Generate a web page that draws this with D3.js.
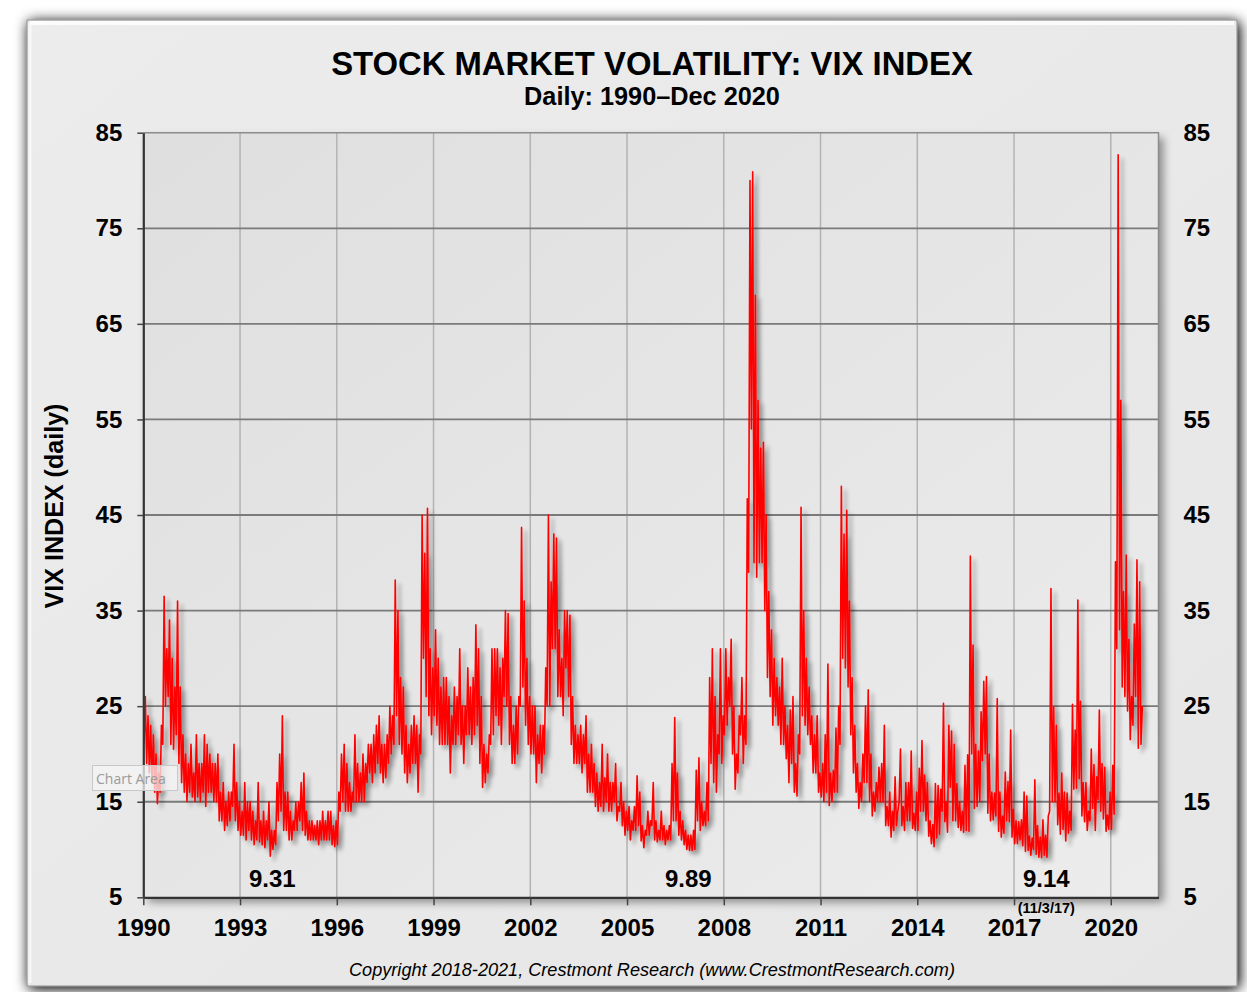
<!DOCTYPE html>
<html><head><meta charset="utf-8">
<script src="https://cdn.jsdelivr.net/npm/d3@7"></script>
<style>
body{margin:0;background:#fff;}
svg{display:block;font-family:"Liberation Sans",Arial,sans-serif;}
</style>
</head><body>
<svg id="c" width="1247" height="992"></svg>
<script>
// ---------------- data ----------------
const startYear = 1990;
const xTickYears = [1990,1993,1996,1999,2002,2005,2008,2011,2014,2017,2020];
const yTickValues = [5,15,25,35,45,55,65,75,85];
// monthly low / high readings of the daily VIX, Jan 1990 - Dec 2020
const vixLow = [
 21,19,18,17,16,14.8,16,21,25,26,21,20.5,            // 1990
 22,19,17,16,15,16,15.5,15,15.5,15,16,14.5,          // 1991
 16,16,15,15,13,13,12,12.5,13,14.5,13,12,            // 1992
 11.5,11.5,11,12,11,10.5,11,10.8,10.5,10.2,11,9.31,  // 1993
 10,10.5,13,14,12,12,11,11,12,12,13,12,              // 1994
 11.5,11,11,11,11,10.5,11,11,11,11,10.5,10.3,        // 1995
 10.5,14,15,14,14,14,15,15,15,15,15,17,              // 1996
 18,17,18,19,18,17,17.5,19,20,21,24,21,              // 1997
 20,18,17,18,19,19,16,20,30,26,24,22,                // 1998
 24,23,21,21,21,21,18,21,21,22,21,19,                // 1999
 22,22,21,22,23,19,16.5,17,18,21,22,24,              // 2000
 23,21,26,25,21,19,19,20,25,27,23,21,                // 2001
 20,20,17,19,18,20,25,25,31,31,26,26,                // 2002
 24,29,26,21,19,19,19,18,19,16,16,16,                // 2003
 14.5,14,14.5,14,15,14,14,15,13,14,12.5,11.5,        // 2004
 12,11,12,12,12.5,10.9,10.2,11.5,11.5,12.5,11,10.8,  // 2005
 11,11,10.5,11,11,13,13,11.5,11,10.5,10,9.9,         // 2006
 9.89,10,13,12,12.5,12.5,13,19,17,16,20,19,          // 2007
 22,23,25,20,16.3,18,22,19,21,39,54,40,              // 2008
 38.5,40,40,35,28,26,23,24,23,21,21,19.5,            // 2009
 17,19,16,15.6,20,24,23,22,21,18,18,16,              // 2010
 15.5,15,16,14.6,15,16,16,21,30,29,27,22,            // 2011
 18,16,14.3,15,17,17,15,13.5,14,15,15,15,            // 2012
 12.5,12.5,11.3,12,12.5,15,12.5,12,13,13,12.2,12,    // 2013
 12,14,14,13,11.4,10.6,10.3,11.2,11.6,14,12.9,11.8,  // 2014
 16.5,13,13,12.3,12,11.8,12,11.9,20,14.3,14.5,15,    // 2015
 19.3,20,13.8,13,13.1,13.5,11.9,11.3,11.7,13,12.9,11.3, // 2016
 10.6,10.6,11,10.4,9.8,9.9,9.4,10,9.5,9.2,9.14,9.4,  // 2017
 9.2,14,15,15,12.6,11.6,12.1,10.9,11.7,12,16.3,16.4, // 2018
 17.4,13.5,12.9,12,13,14.3,12,15.2,14,13.2,11.9,12.1, // 2019
 12.1,13.7,31,33,27,26,24.5,21.5,23,26,20.6,21       // 2020
];
const vixHigh = [
 26,24,23,22,20,18,23,36.5,31,34,30,27,              // 1990
 36,27,22,20,19,21,18,22,19,19,22,21,                // 1991
 20,19,19,20,16,17,15,16,16,21,17,15,                // 1992
 14,17,15,15,14,13,17,13,14,13,15,12,                // 1993
 12,17,20,24,16,16,14,13,15,15,17,18,                // 1994
 14,13,13,12.5,13,13,14,13,14,14,12.5,13,            // 1995
 16,20,21,19,17,16,22,19,18,20,19,21,                // 1996
 21,22,23,24,21,21,22,25,24,38.2,35,28,              // 1997
 27,23,21,23,24,23,22,45,41,45.7,31,29,              // 1998
 33,30,27,28,28,26,24,27,26,31,25,25,                // 1999
 29,27,28,33.5,31,26,21,20,22,31,31,31,              // 2000
 29,30,35,34.7,26,23,25,26,43.7,36,30,26,            // 2001
 25,25,22,23,23,29,45,38,43,42.6,33,30,              // 2002
 35,35,34.5,26,23,22,23,22,24,20,21,19,              // 2003
 18,17,21,17.5,20,17,17,19,14.5,17,15,14,            // 2004
 14.5,13,14.5,17.7,16,12.5,12,14,13,17,13,12,        // 2005
 14,12.5,12,12.5,19,23.8,18,14,13,12,11.5,11.5,      // 2006
 12,18.3,19.6,15,14,17,28,31,26,22,31,24,            // 2007
 31,28,32,25,20,24,28,24,46.7,80,80.9,68,            // 2008
 57,52,52.6,45,37,33,30,28,27,30,25,23,              // 2009
 24.6,26,19,22,45.8,35,30,27,24,22,24,18,            // 2010
 19,22,29.4,18,18.3,22.7,25,48,43,45.5,36,28,        // 2011
 23,19,17,20,25,26.7,20,16,17,18.6,19,23,            // 2012
 14.5,16,14,17.6,14,20.5,14.5,17,17,20.3,13.8,16,    // 2013
 18.5,21.4,17.8,17,13,12.6,16.9,16.7,16.3,25.3,15,23, // 2014
 22.4,21,16.9,15,14,18.8,19.9,40.7,31.4,21,20.3,24.4, // 2015
 27.6,28.1,20,16,15.9,25.8,16,13.5,18.1,17.1,22.5,14.2, // 2016
 13,12.9,13.1,16,15.6,11.4,11.2,17.3,12.5,11.3,13.1,11.5, // 2017
 13.5,37.3,24.9,23,15.9,18,16,15.9,14,25.2,22.5,36.1, // 2018
 25.5,17,17,14,20.5,18.9,17.6,24.6,19,18.6,13.6,16,  // 2019
 18.8,40.1,82.7,57,37,40.8,32,26,33.6,40.3,38,25     // 2020
];
const lowLabels = ["9.31","9.89","9.14"];
const lowLabelYears = [1994.0, 2006.9, 2018.0];
const lowLabelNotes = ["","","(11/3/17)"];

// ---------------- chart ----------------
const svg = d3.select("#c");
const defs = svg.append("defs");

function shadowFilter(id, blur, dx, dy, op){
  const f = defs.append("filter").attr("id", id)
    .attr("x","-10%").attr("y","-10%").attr("width","125%").attr("height","125%");
  f.append("feGaussianBlur").attr("in","SourceAlpha").attr("stdDeviation",blur).attr("result","b");
  f.append("feOffset").attr("in","b").attr("dx",dx).attr("dy",dy).attr("result","o");
  f.append("feComponentTransfer").attr("in","o").attr("result","s")
    .append("feFuncA").attr("type","linear").attr("slope",op);
  const m = f.append("feMerge");
  m.append("feMergeNode").attr("in","s");
  m.append("feMergeNode").attr("in","SourceGraphic");
}
shadowFilter("frameShadow", 7, 2, 2, 1.1);
shadowFilter("plotShadow", 4, 5, 5, 0.4);
shadowFilter("lineShadow", 2.2, 4, 4, 0.4);

const fg = defs.append("linearGradient").attr("id","frameGrad")
  .attr("x1","0").attr("y1","0").attr("x2","1").attr("y2","1");
fg.append("stop").attr("offset","0").attr("stop-color","#ececec");
fg.append("stop").attr("offset","1").attr("stop-color","#e6e6e6");
const pg = defs.append("linearGradient").attr("id","plotGrad")
  .attr("x1","0").attr("y1","0").attr("x2","1").attr("y2","1");
pg.append("stop").attr("offset","0").attr("stop-color","#dfdfdf");
pg.append("stop").attr("offset","1").attr("stop-color","#ececec");

// outer frame
svg.append("rect").attr("x",27).attr("y",20).attr("width",1210).attr("height",966)
  .attr("fill","url(#frameGrad)").attr("stroke","#8a8a8a").attr("stroke-width",1)
  .attr("filter","url(#frameShadow)");
svg.append("line").attr("x1",30).attr("x2",1234).attr("y1",23).attr("y2",23)
  .attr("stroke","#fff").attr("stroke-width",4).attr("opacity",0.85);
svg.append("line").attr("x1",30).attr("x2",30).attr("y1",23).attr("y2",983)
  .attr("stroke","#fff").attr("stroke-width",3).attr("opacity",0.6);

const L = 143.3, R = 1158.5, T = 132.7, B = 897.3;
const x = d3.scaleLinear().domain([1990, 2021.48]).range([L, R]);
const y = d3.scaleLinear().domain([5, 85]).range([B, T]);

// plot area
svg.append("rect").attr("x",L).attr("y",T).attr("width",R-L).attr("height",B-T)
  .attr("fill","url(#plotGrad)").attr("filter","url(#plotShadow)");

// gridlines
svg.append("g").selectAll("line").data(xTickYears.slice(1)).join("line")
  .attr("x1",d=>x(d)).attr("x2",d=>x(d)).attr("y1",T).attr("y2",B)
  .attr("stroke","#b3b3b3").attr("stroke-width",1.5);
svg.append("g").selectAll("line").data(yTickValues.slice(1,-1)).join("line")
  .attr("x1",L).attr("x2",R).attr("y1",d=>y(d)).attr("y2",d=>y(d))
  .attr("stroke","#7a7a7a").attr("stroke-width",1.8);
svg.append("path").attr("d",`M${L},${T}H${R}V${B}`).attr("fill","none")
  .attr("stroke","#8c8c8c").attr("stroke-width",1.5);

// series
const pts = [];
vixLow.forEach((v,i)=>{
  pts.push([startYear + (i+0.25)/12, v]);
  pts.push([startYear + (i+0.75)/12, vixHigh[i]]);
});
const line = d3.line().x(d=>x(d[0])).y(d=>y(d[1]));
svg.append("path").datum(pts).attr("d",line).attr("fill","none")
  .attr("stroke","#ff0000").attr("stroke-width",1.6).attr("stroke-linejoin","round")
  .attr("filter","url(#lineShadow)");

// axes
const font = "'Liberation Sans', Arial, sans-serif";
const yl = svg.append("g").attr("transform",`translate(${L},0)`)
  .call(d3.axisLeft(y).tickValues(yTickValues).tickSize(6).tickPadding(15).tickSizeOuter(0));
const yr = svg.append("g").attr("transform",`translate(${R},0)`)
  .call(d3.axisRight(y).tickValues(yTickValues).tickSize(0).tickPadding(25).tickSizeOuter(0));
yr.select(".domain").remove();
const xa = svg.append("g").attr("transform",`translate(0,${B})`)
  .call(d3.axisBottom(x).tickValues(xTickYears).tickFormat(d3.format("d")).tickSize(8).tickPadding(14).tickSizeOuter(0));
[yl,yr,xa].forEach(g=>{
  g.selectAll("text").attr("font-family",font).attr("font-weight","bold")
    .attr("font-size",24).attr("fill","#000");
  g.selectAll(".tick line").attr("stroke","#444").attr("stroke-width",1.5);
  g.select(".domain").attr("stroke","#333").attr("stroke-width",2.2);
});
xa.selectAll("text").attr("dy","0.71em").attr("y", 22);

// low annotations
lowLabels.forEach((t,i)=>{
  svg.append("text").attr("x",x(lowLabelYears[i])).attr("y",887)
    .attr("text-anchor","middle").attr("font-family",font).attr("font-weight","bold")
    .attr("font-size",24).text(t);
  if(lowLabelNotes[i]) svg.append("text").attr("x",x(lowLabelYears[i])).attr("y",913)
    .attr("text-anchor","middle").attr("font-family",font).attr("font-weight","bold")
    .attr("font-size",14.5).text(lowLabelNotes[i]);
});

// titles
function fitText(sel, target){
  const fs = +sel.attr("font-size");
  const w = sel.node().getComputedTextLength();
  if (w > 0) sel.attr("font-size", fs * target / w);
}
const title = svg.append("text").attr("x",652).attr("y",75).attr("text-anchor","middle")
  .attr("font-family",font).attr("font-weight","bold").attr("font-size",30)
  .text("STOCK MARKET VOLATILITY: VIX INDEX");
fitText(title, 642);
const sub = svg.append("text").attr("x",652).attr("y",105).attr("text-anchor","middle")
  .attr("font-family",font).attr("font-weight","bold").attr("font-size",22)
  .text("Daily: 1990\u2013Dec 2020");
fitText(sub, 256);
const ylab = svg.append("text").attr("transform","translate(63,506) rotate(-90)")
  .attr("text-anchor","middle").attr("font-family",font).attr("font-weight","bold")
  .attr("font-size",23).text("VIX INDEX (daily)");
fitText(ylab, 205);
const copy = svg.append("text").attr("x",652).attr("y",976).attr("text-anchor","middle")
  .attr("font-family",font).attr("font-style","italic").attr("font-size",16)
  .text("Copyright 2018-2021, Crestmont Research (www.CrestmontResearch.com)");
fitText(copy, 606);

// "Chart Area" tooltip
const tip = svg.append("g");
tip.append("rect").attr("x",92.5).attr("y",765.5).attr("width",85).attr("height",25)
  .attr("fill","#f4f4f4").attr("fill-opacity",0.75).attr("stroke","#c8c8c8");
tip.append("text").attr("x",96).attr("y",784).attr("font-family","'Open Sans', 'Noto Sans', sans-serif")
  .attr("font-size",14).attr("fill","#9a9a9a").text("Chart Area");
</script>
</body></html>
